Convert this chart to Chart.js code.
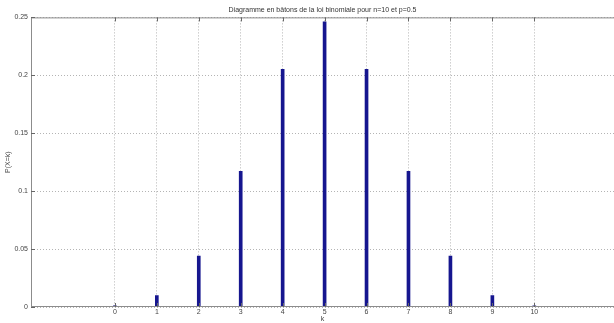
<!DOCTYPE html>
<html>
<head>
<meta charset="utf-8">
<script src="https://cdn.jsdelivr.net/npm/chart.js@4/dist/chart.umd.min.js"></script>
<style>
html,body{margin:0;padding:0;background:#fff;overflow:hidden;}
#wrap{width:614px;height:323px;position:relative;}
</style>
</head>
<body>
<div id="wrap"><canvas id="c"></canvas></div>
<script>
const categories = [0, 1, 2, 3, 4, 5, 6, 7, 8, 9, 10];
const probabilities = [0.000977, 0.009766, 0.043945, 0.117188, 0.205078, 0.246094, 0.205078, 0.117188, 0.043945, 0.009766, 0.000977];
const yTicks = [0, 0.05, 0.1, 0.15, 0.2, 0.25];
const titleText = 'Diagramme en bâtons de la loi binomiale pour n=10 et p=0.5';

const FONT = 'Liberation Sans, Arial, sans-serif';
const frame = {
  id: 'frame',
  afterDraw(chart) {
    const {ctx, chartArea: a, scales: {x, y}} = chart;
    ctx.save();
    ctx.strokeStyle = '#8c8c8c';
    ctx.lineWidth = 1;
    ctx.setLineDash([]);
    ctx.beginPath();
    ctx.moveTo(a.left, a.top + 0.5); ctx.lineTo(a.right, a.top + 0.5);
    ctx.moveTo(a.left + 0.5, a.top); ctx.lineTo(a.left + 0.5, a.bottom);
    ctx.moveTo(a.left, a.bottom - 0.5); ctx.lineTo(a.right, a.bottom - 0.5);
    ctx.stroke();
    ctx.strokeStyle = '#666';
    ctx.beginPath();
    categories.forEach(v => {
      const px = Math.round(x.getPixelForValue(v)) + 0.5;
      ctx.moveTo(px, a.bottom); ctx.lineTo(px, a.bottom - 4);
      ctx.moveTo(px, a.top); ctx.lineTo(px, a.top + 4);
    });
    yTicks.forEach(v => {
      const py = Math.round(y.getPixelForValue(v)) + 0.5;
      ctx.moveTo(a.left, py); ctx.lineTo(a.left + 4, py);
    });
    ctx.stroke();
    ctx.restore();
  }
};

new Chart(document.getElementById('c'), {
  type: 'bar',
  data: {
    datasets: [{
      data: categories.map((k, i) => ({x: k, y: probabilities[i]})),
      backgroundColor: '#16168f',
      borderWidth: 0,
      barThickness: 3
    }]
  },
  options: {
    responsive: true,
    maintainAspectRatio: false,
    animation: false,
    layout: {padding: 0},
    plugins: {
      legend: {display: false},
      tooltip: {enabled: false},
      title: {
        display: true,
        text: titleText,
        fullSize: false,
        color: '#333',
        font: {family: FONT, size: 7, weight: 'normal'},
        padding: {top: 6, bottom: 3}
      }
    },
    scales: {
      x: {
        type: 'linear',
        offset: false,
        min: -2,
        max: 11.9,
        afterBuildTicks(scale) { scale.ticks = categories.map(v => ({value: v})); },
        afterFit(scale) { scale.height = 16; },
        ticks: {
          color: '#444',
          font: {family: FONT, size: 7},
          padding: 1,
          maxRotation: 0,
          autoSkip: false,
          callback: v => String(v)
        },
        grid: {
          offset: false,
          color: '#b4b4b4',
          lineWidth: 1,
          drawTicks: false,
          tickLength: 0
        },
        border: {display: false, dash: [1, 2]},
        title: {
          display: true,
          text: 'k',
          color: '#444',
          font: {family: FONT, size: 7},
          padding: {top: 0, bottom: 0}
        }
      },
      y: {
        min: 0,
        max: 0.25,
        afterBuildTicks(scale) { scale.ticks = yTicks.map(v => ({value: v})); },
        afterFit(scale) { scale.width = 31; },
        ticks: {
          color: '#444',
          font: {family: FONT, size: 7},
          padding: 3,
          callback: v => String(Math.round(v * 100) / 100)
        },
        grid: {
          color: '#b4b4b4',
          lineWidth: 1,
          drawTicks: false,
          tickLength: 0
        },
        border: {display: false, dash: [1, 2]},
        title: {
          display: true,
          text: 'P(X=k)',
          color: '#444',
          font: {family: FONT, size: 7},
          padding: {top: 4, bottom: 0}
        }
      }
    }
  },
  plugins: [frame]
});
</script>
</body>
</html>
